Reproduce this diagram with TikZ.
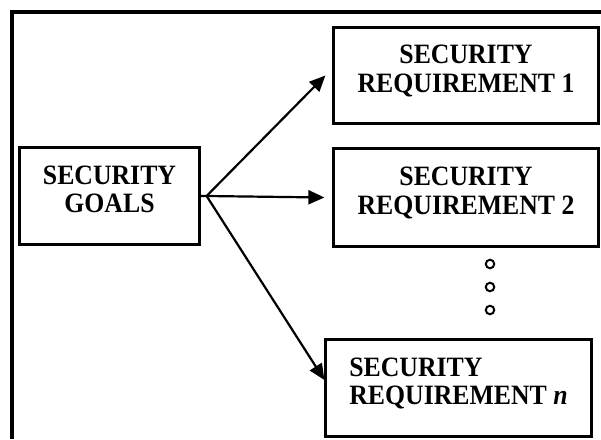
\documentclass[tikz,border=0pt]{standalone}
\usepackage{fontspec}
\setmainfont{Liberation Serif}[FakeStretch=0.92]
\usetikzlibrary{arrows.meta}
\begin{document}
\begin{tikzpicture}[x=1pt,y=-1pt,
  box/.style={draw, line width=2.2pt, inner sep=0pt, align=center,
    text depth=14pt,
    font=\bfseries\fontsize{28}{28.5}\selectfont},
  conn/.style={line width=2.2pt, -{Triangle[length=16pt,width=14pt]}},
  dot/.style={circle, draw, line width=2pt, minimum size=8.5pt, inner sep=0pt}]
\useasboundingbox (0,0) rectangle (601,439);
\draw[line width=4pt] (12,439) -- (12,12) -- (601,12);
\node[box, minimum width=180pt, minimum height=97pt] (goals) at (109.5,196) {SECURITY\\GOALS};
\node[box, minimum width=265pt, minimum height=96pt] (r1) at (466,75.5) {SECURITY\\REQUIREMENT 1};
\node[box, minimum width=265pt, minimum height=98pt] (r2) at (466,197.5) {SECURITY\\REQUIREMENT 2};
\node[box, align=left, minimum width=266pt, minimum height=97pt] (rn) at (458.5,388) {SECURITY\\REQUIREMENT \textit{n}};
\coordinate (o) at ([xshift=6pt]goals.east);
\draw[conn] (goals.east) -- (o) -- ([xshift=-7pt]r1.west);
\draw[conn] (o) -- ([xshift=-8pt]r2.west);
\draw[conn] (o) -- ([yshift=8pt]rn.west);
\node[dot] (d1) at (490,264) {};
\node[dot] (d2) at (490,287) {};
\node[dot] (d3) at (490,310) {};
\end{tikzpicture}
\end{document}
